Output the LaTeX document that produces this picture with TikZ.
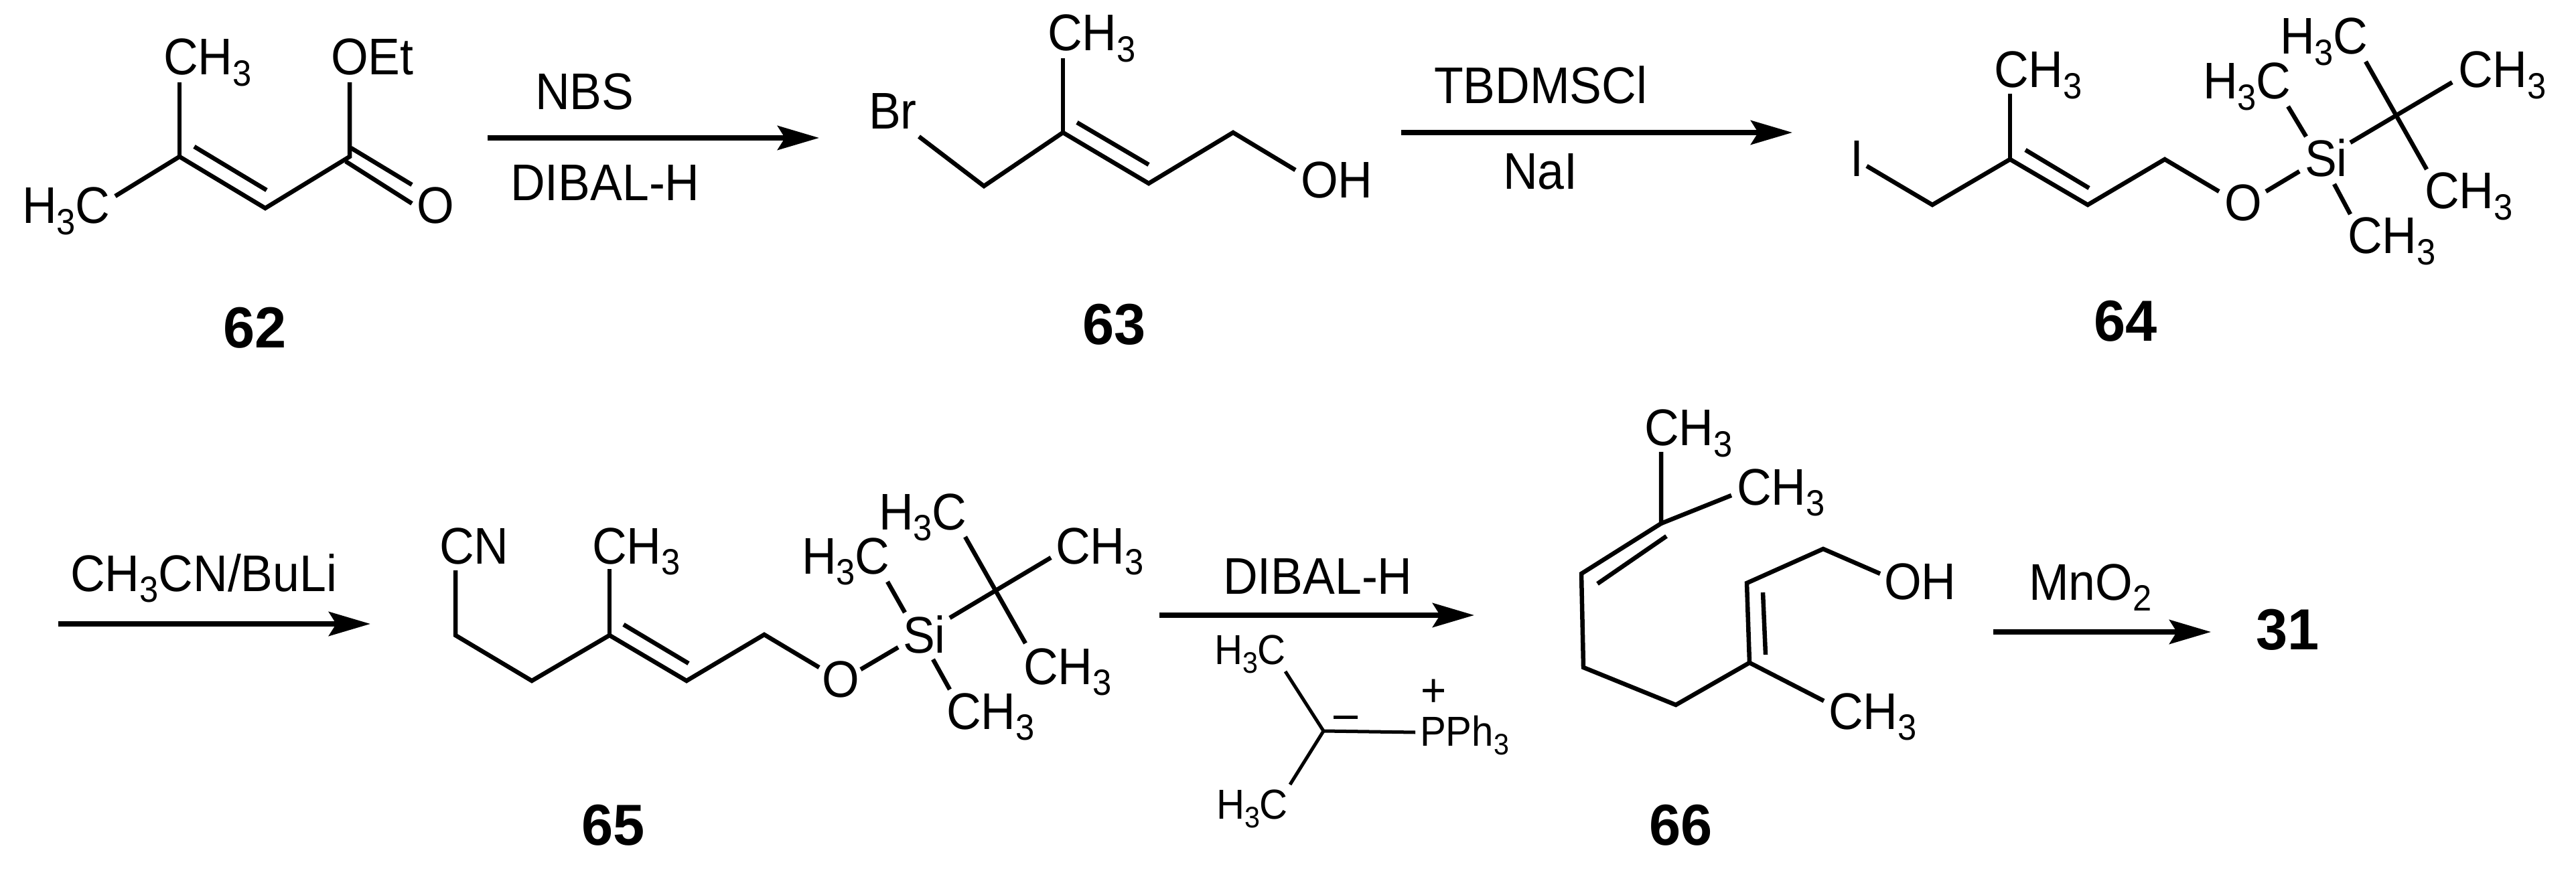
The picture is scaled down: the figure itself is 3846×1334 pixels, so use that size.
\documentclass[tikz,border=0pt]{standalone}
\usepackage{fontspec}
\setmainfont{Liberation Sans}[FakeStretch=0.93,BoldFeatures={FakeStretch=0.98}]
\usetikzlibrary{arrows.meta}
\newcommand\dn[1]{\raisebox{-0.16cm}{\fontsize{15.5pt}{16pt}\selectfont #1}}
\newcommand\dnsm[1]{\raisebox{-0.13cm}{\fontsize{12.6pt}{14pt}\selectfont #1}}
\tikzset{
  x=0.01cm,y=-0.01cm,
  lab/.style={anchor=base west,inner sep=0pt,outer sep=0pt,font=\fontsize{21.9pt}{25pt}\selectfont},
  labsm/.style={anchor=base west,inner sep=0pt,outer sep=0pt,font=\fontsize{17.8pt}{20pt}\selectfont},
  cmpd/.style={anchor=base west,inner sep=0pt,outer sep=0pt,font=\fontsize{24.6pt}{28pt}\selectfont\bfseries},
  bond/.style={draw=black,line width=0.065cm,line join=miter},
  rxn/.style={draw=black,line width=0.075cm,-{Stealth[length=0.62cm,width=0.36cm,inset=0.11cm]}},
}
\begin{document}
\begin{tikzpicture}
\useasboundingbox (0,0) rectangle (3846,1334);
% ---------- 62
\node[lab] (l62a) at (244,112) {CH\dn{3}};
\node[lab] (l62b) at (33,334) {H\dn{3}C};
\node[lab] (l62c) at (494,112) {OEt};
\node[lab] (l62d) at (622,334) {O};
\node[cmpd] (c62) at (333,520) {62};
\coordinate (a1) at (268,123); \coordinate (a2) at (268,234); \coordinate (a3) at (172,293);
\coordinate (a4) at (396,311); \coordinate (a5) at (522,234); \coordinate (a6) at (522,123);
\coordinate (a7) at (516,241); \coordinate (a8) at (615,304); \coordinate (a9) at (524,221);
\coordinate (a10) at (615,276); \coordinate (a11) at (290,219); \coordinate (a12) at (398,284);
\draw[bond] (a3)--(a2)--(a4)--(a5)--(a6);
\draw[bond] (a1)--(a2);
\draw[bond] (a7)--(a8);
\draw[bond] (a9)--(a10);
\draw[bond] (a11)--(a12);
% arrow 1
\node[lab] (t1a) at (799,164) {NBS};
\node[lab] (t1b) at (762,300) {DIBAL-H};
\coordinate (r1s) at (728,206); \coordinate (r1e) at (1223,206);
\draw[rxn] (r1s)--(r1e);
% ---------- 63
\node[lab] (l63a) at (1297,193) {Br};
\node[lab] (l63b) at (1564,76) {CH\dn{3}};
\node[lab] (l63c) at (1942,296) {OH};
\node[cmpd] (c63) at (1616,515) {63};
\coordinate (b1) at (1372,204); \coordinate (b2) at (1469,278); \coordinate (b3) at (1587,198);
\coordinate (b4) at (1587,87); \coordinate (b5) at (1715,274); \coordinate (b6) at (1608,183);
\coordinate (b7) at (1715,246); \coordinate (b8) at (1841,198); \coordinate (b9) at (1934,254);
\draw[bond] (b1)--(b2)--(b3)--(b5)--(b8)--(b9);
\draw[bond] (b3)--(b4);
\draw[bond] (b6)--(b7);
% arrow 2
\node[lab] (t2a) at (2141,155) {TBDMSCl};
\node[lab] (t2b) at (2244,283) {NaI};
\coordinate (r2s) at (2092,198); \coordinate (r2e) at (2676,198);
\draw[rxn] (r2s)--(r2e);
% ---------- 64
\node[lab] (l64i) at (2762,264) {I};
\node[lab] (l64a) at (2977,131) {CH\dn{3}};
\node[lab] (l64o) at (3321,330) {O};
\node[lab] (l64s) at (3441,264) {Si};
\node[lab] (l64b) at (3289,148) {H\dn{3}C};
\node[lab] (l64c) at (3404,81) {H\dn{3}C};
\node[lab] (l64d) at (3670,131) {CH\dn{3}};
\node[lab] (l64e) at (3620,312) {CH\dn{3}};
\node[lab] (l64f) at (3505,379) {CH\dn{3}};
\node[cmpd] (c64) at (3126,510) {64};
\coordinate (c1) at (2787,248); \coordinate (c2) at (2885,306); \coordinate (c3) at (3001,238);
\coordinate (c4) at (3001,140); \coordinate (c5) at (3117,306); \coordinate (c6) at (3024,224);
\coordinate (c7) at (3119,281); \coordinate (c8) at (3232,238); \coordinate (c9) at (3313,286);
\coordinate (c10) at (3383,286); \coordinate (c11) at (3433,256); \coordinate (c12) at (3416,159);
\coordinate (c13) at (3443,204); \coordinate (c14) at (3509,213); \coordinate (c15) at (3661,123);
\coordinate (c16) at (3532,92); \coordinate (c17) at (3623,253); \coordinate (c18) at (3485,275);
\coordinate (c19) at (3509,320);
\draw[bond] (c1)--(c2)--(c3)--(c5)--(c8)--(c9);
\draw[bond] (c3)--(c4);
\draw[bond] (c6)--(c7);
\draw[bond] (c10)--(c11);
\draw[bond] (c12)--(c13);
\draw[bond] (c14)--(c15);
\draw[bond] (c16)--(c17);
\draw[bond] (c18)--(c19);
% arrow 3
\node[lab] (t3a) at (105,883) {CH\dn{3}CN/BuLi};
\coordinate (r3s) at (87,932); \coordinate (r3e) at (553,932);
\draw[rxn] (r3s)--(r3e);
% ---------- 65
\node[lab] (l65n) at (656,842) {CN};
\node[lab] (l65a) at (884,842) {CH\dn{3}};
\node[lab] (l65o) at (1227,1041) {O};
\node[lab] (l65s) at (1348,975) {Si};
\node[lab] (l65b) at (1197,857) {H\dn{3}C};
\node[lab] (l65c) at (1312,791) {H\dn{3}C};
\node[lab] (l65d) at (1576,842) {CH\dn{3}};
\node[lab] (l65e) at (1528,1022) {CH\dn{3}};
\node[lab] (l65f) at (1413,1089) {CH\dn{3}};
\node[cmpd] (c65) at (868,1262) {65};
\coordinate (d1) at (680,852); \coordinate (d2) at (680,949); \coordinate (d3) at (794,1017);
\coordinate (d4) at (910,949); \coordinate (d5) at (910,850); \coordinate (d6) at (1025,1017);
\coordinate (d7) at (931,933); \coordinate (d8) at (1028,991); \coordinate (d9) at (1141,948);
\coordinate (d10) at (1223,997); \coordinate (d11) at (1285,1000); \coordinate (d12) at (1341,967);
\coordinate (d13) at (1325,869); \coordinate (d14) at (1351,915); \coordinate (d15) at (1418,923);
\coordinate (d16) at (1569,833); \coordinate (d17) at (1441,802); \coordinate (d18) at (1531,961);
\coordinate (d19) at (1393,985); \coordinate (d20) at (1418,1030);
\draw[bond] (d1)--(d2)--(d3)--(d4)--(d6)--(d9)--(d10);
\draw[bond] (d4)--(d5);
\draw[bond] (d7)--(d8);
\draw[bond] (d11)--(d12);
\draw[bond] (d13)--(d14);
\draw[bond] (d15)--(d16);
\draw[bond] (d17)--(d18);
\draw[bond] (d19)--(d20);
% arrow 4 and ylide
\node[lab] (t4a) at (1826,887) {DIBAL-H};
\coordinate (r4s) at (1731,919); \coordinate (r4e) at (2201,919);
\draw[rxn] (r4s)--(r4e);
\node[labsm] (y1) at (1813,992) {H\dnsm{3}C};
\node[labsm] (y2) at (1816,1223) {H\dnsm{3}C};
\node[labsm] (y3) at (2120,1114) {PPh\dnsm{3}};
\node[anchor=center,inner sep=0pt,font=\fontsize{20pt}{22pt}\selectfont] (yp) at (2141,1035) {+};
\coordinate (e1) at (1919,1003); \coordinate (e2) at (1976,1092); \coordinate (e3) at (2113,1094);
\coordinate (e4) at (1926,1172); \coordinate (e5) at (1991,1071); \coordinate (e6) at (2027,1071);
\draw[bond,line width=0.05cm] (e1)--(e2)--(e4);
\draw[bond,line width=0.05cm] (e2)--(e3);
\draw[bond,line width=0.05cm] (e5)--(e6);
% ---------- 66
\node[lab] (l66a) at (2455,666) {CH\dn{3}};
\node[lab] (l66b) at (2593,754) {CH\dn{3}};
\node[lab] (l66c) at (2813,895) {OH};
\node[lab] (l66d) at (2730,1089) {CH\dn{3}};
\node[cmpd] (c66) at (2462,1262) {66};
\coordinate (f1) at (2480,675); \coordinate (f2) at (2480,782); \coordinate (f3) at (2585,740);
\coordinate (f4) at (2361,857); \coordinate (f5) at (2488,801); \coordinate (f6) at (2385,872);
\coordinate (f7) at (2364,997); \coordinate (f8) at (2502,1053); \coordinate (f9) at (2612,990);
\coordinate (f10) at (2608,871); \coordinate (f11) at (2632,885); \coordinate (f12) at (2636,978);
\coordinate (f13) at (2722,820); \coordinate (f14) at (2807,857); \coordinate (f15) at (2723,1047);
\draw[bond] (f1)--(f2)--(f4)--(f7)--(f8)--(f9)--(f10)--(f13)--(f14);
\draw[bond] (f2)--(f3);
\draw[bond] (f5)--(f6);
\draw[bond] (f11)--(f12);
\draw[bond] (f9)--(f15);
% arrow 5
\node[lab] (t5a) at (3029,896) {MnO\dn{2}};
\coordinate (r5s) at (2976,944); \coordinate (r5e) at (3301,944);
\draw[rxn] (r5s)--(r5e);
\node[cmpd] (c31) at (3368,970) {31};
\end{tikzpicture}
\end{document}
